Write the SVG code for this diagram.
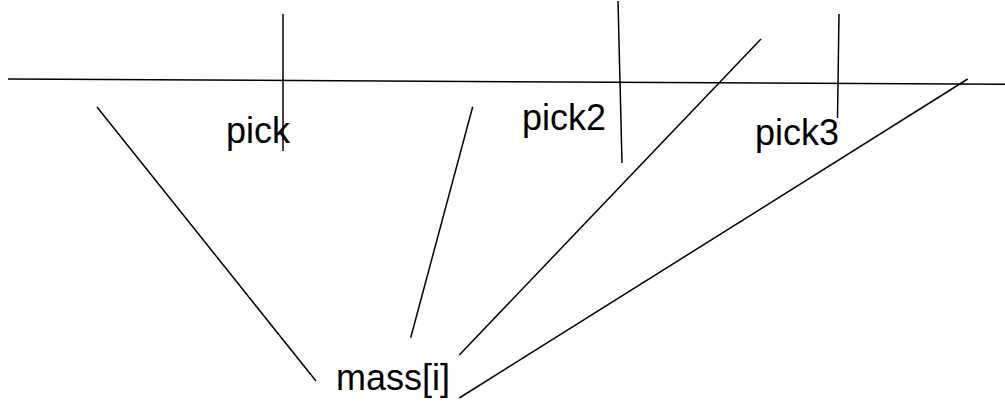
<svg xmlns="http://www.w3.org/2000/svg" width="1005" height="404" viewBox="0 0 1005 404">
<style>
.c{stroke:#000;stroke-width:1.5;fill:none}
.t{font-family:"Liberation Sans",Arial,sans-serif;font-size:36px;fill:#000}
</style>
<rect width="1005" height="404" fill="#fff"/>
<g id="connectors">
<line class="c" x1="8" y1="79" x2="1005" y2="84.3"/>
<line class="c" x1="283" y1="14" x2="283" y2="151"/>
<line class="c" x1="618" y1="1" x2="622" y2="163"/>
<line class="c" x1="839" y1="14" x2="837.5" y2="118"/>
<line class="c" x1="97" y1="107" x2="316" y2="381"/>
<line class="c" x1="472.7" y1="106.7" x2="410.7" y2="337.7"/>
<line class="c" x1="761" y1="39" x2="459.3" y2="355"/>
<line class="c" x1="967.7" y1="79" x2="459.3" y2="398"/>
</g>
<g id="pick"><text class="t" x="226" y="143">pick</text></g>
<g id="pick2"><text class="t" x="522" y="130">pick2</text></g>
<g id="pick3"><text class="t" x="755" y="145">pick3</text></g>
<g id="mass"><text class="t" x="336" y="390">mass[i]</text></g>
</svg>
